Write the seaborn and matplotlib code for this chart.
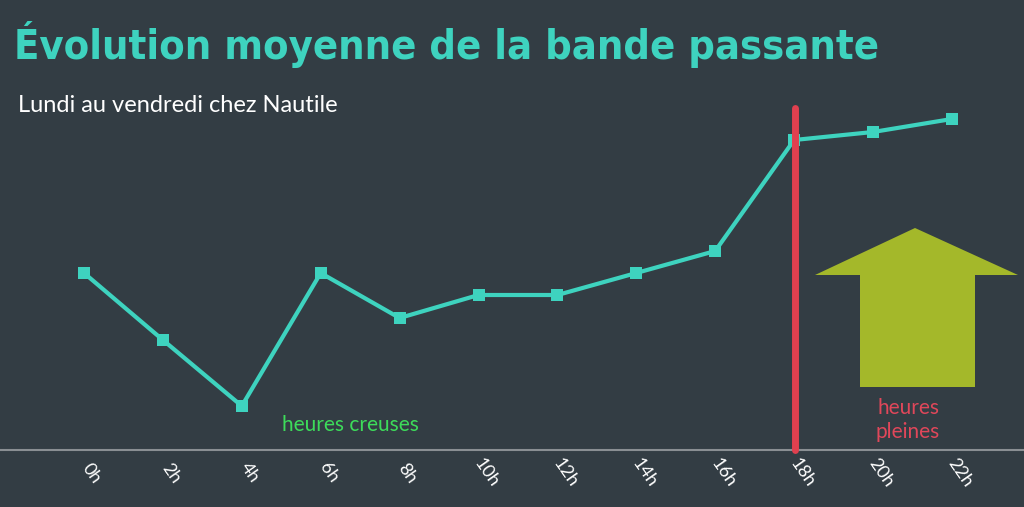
import numpy as np
import pandas as pd
import matplotlib
matplotlib.use("Agg")
import matplotlib.pyplot as plt
from matplotlib.patches import Polygon
import seaborn as sns

# data (relative bandwidth, arbitrary units)
hours = [0, 2, 4, 6, 8, 10, 12, 14, 16, 18, 20, 22]
bandwidth = [177, 110, 44, 177, 132, 155, 155, 177, 199, 310, 318, 331]
tick_labels = [f"{h}h" for h in hours]

BG = "#333d44"
TEAL = "#3ed3bf"

sns.set_theme(style="white")
plt.rcParams["font.family"] = ["Lato", "DejaVu Sans"]

df = pd.DataFrame({"heure": hours, "bande": bandwidth})

fig = plt.figure(figsize=(10.24, 5.07), dpi=100, facecolor=BG)
ax = fig.add_axes([0, 0, 1, 1])
ax.set_facecolor(BG)

# pixel -> data mapping chosen so x=0h sits at px 84, 39.45 px per hour
px_per_h = 39.45
ax.set_xlim(-84 / px_per_h, (1024 - 84) / px_per_h)
ax.set_ylim(-57, 450)
ax.axis("off")

def px(x):
    return (x - 84) / px_per_h

def py(y):
    return 450 - y

# baseline
ax.plot([px(0), px(1024)], [0, 0], color="#8a8f93", lw=1.5)

sns.lineplot(data=df, x="heure", y="bande", ax=ax, color=TEAL, lw=3,
             marker="s", markersize=9, markeredgewidth=0)

# peak hours marker
ax.plot([px(795), px(795)], [0, py(108)], color="#e0404f", lw=5)

# arrow
arrow = [(915, 228), (1018, 275), (975, 275), (975, 387), (860, 387),
         (860, 275), (815, 275)]
ax.add_patch(Polygon([(px(a), py(b)) for a, b in arrow], closed=True,
                     color="#a4b82a", lw=0))

for h, lab in zip(hours, tick_labels):
    ax.text(h + 0.2, py(473), lab, rotation=-55, ha="center", va="center",
            color="white", fontsize=13)

ax.text(px(350), py(425), "heures creuses", color="#3ddc5a", fontsize=15,
        ha="center", va="center")
ax.text(px(908), py(420), "heures\npleines", color="#e0475a", fontsize=15,
        ha="center", va="center", linespacing=1.2)

title = fig.text(14 / 1024, 1 - 45 / 507, "Évolution moyenne de la bande passante",
                 color=TEAL, fontsize=40, fontweight="bold", va="center",
                 fontstretch="condensed",
                 family=["DejaVu Sans", "Lato"])
# shrink the title so it spans the same width as in the reference
fig.canvas.draw()
w = title.get_window_extent().width
if w > 864:
    title.set_fontsize(40 * 864 / w)
fig.text(18 / 1024, 1 - 105 / 507, "Lundi au vendredi chez Nautile",
         color="white", fontsize=17, va="center")

fig.savefig("out.png", dpi=100, facecolor=BG)
